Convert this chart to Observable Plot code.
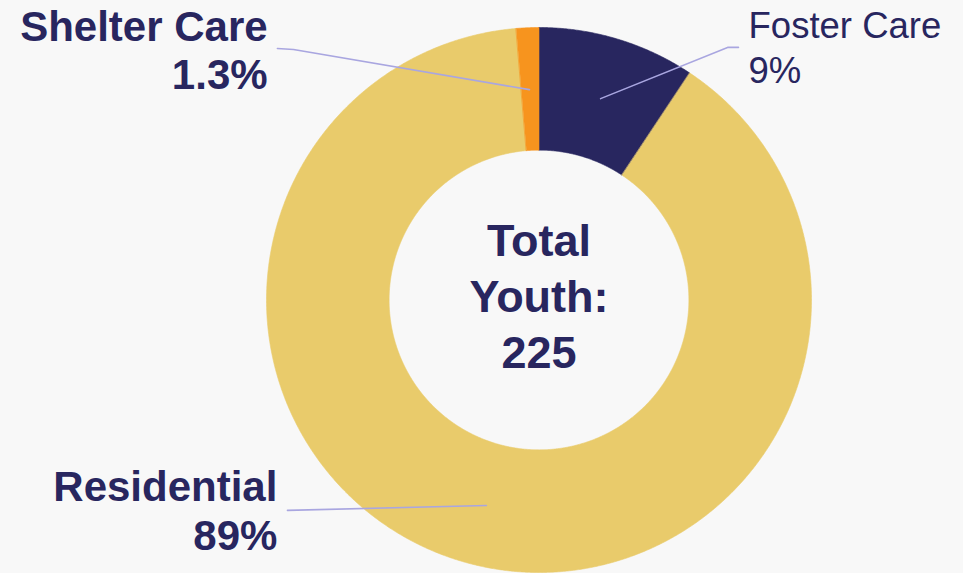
<!DOCTYPE html>
<html>
<head>
<meta charset="utf-8">
<script src="https://cdn.jsdelivr.net/npm/d3@7"></script>
<script src="https://cdn.jsdelivr.net/npm/@observablehq/plot@0.6"></script>
<style>
  html, body { margin: 0; padding: 0; background: #f8f8f8; }
  #chart svg { display: block; }
</style>
</head>
<body>
<div id="chart"></div>
<script>
// ---- data ----
const categories = ["Foster Care", "Residential", "Shelter Care"];
const counts = [21, 201, 3];
const percentLabels = ["9%", "89%", "1.3%"];
const totalLabel = "Total\nYouth:\n225";

// ---- styles ----
const colors = ["#28265f", "#e9cb6b", "#f7941e"];
const ink = "#28265f";
const leaderColor = "#a9a6e0";
const innerR = 0.55;

// ---- slices via d3.pie, drawn as filled polygons in Plot's x/y scales ----
const pie = d3.pie().sort(null).value(d => d.count)(
  categories.map((c, i) => ({ category: c, count: counts[i] }))
);
const slicePts = [];
pie.forEach(s => {
  const n = Math.max(4, Math.ceil((s.endAngle - s.startAngle) / 0.005));
  for (let k = 0; k <= n; k++) {
    const a = s.startAngle + (s.endAngle - s.startAngle) * k / n;
    slicePts.push({ cat: s.data.category, x: Math.sin(a), y: Math.cos(a) });
  }
  for (let k = n; k >= 0; k--) {
    const a = s.startAngle + (s.endAngle - s.startAngle) * k / n;
    slicePts.push({ cat: s.data.category, x: innerR * Math.sin(a), y: innerR * Math.cos(a) });
  }
});

// ---- label layout (chart units, radius = 1) ----
const labelLayout = {
  "Foster Care": { x: 0.769, y: 0.798, anchor: "start", weight: "normal", size: 36.5, lh: 1.23,
    leader: [[0.732, 0.927], [0.692, 0.927], [0.226, 0.739]] },
  "Residential": { x: -0.960, y: -0.919, anchor: "end", weight: "bold", size: 42, lh: 1.167,
    leader: [[-0.923, -0.772], [-0.193, -0.754]] },
  "Shelter Care": { x: -0.996, y: 0.776, anchor: "end", weight: "bold", size: 42, lh: 1.143,
    leader: [[-0.960, 0.923], [-0.901, 0.919], [-0.035, 0.772]] }
};

const leaderPts = [];
categories.forEach(c => labelLayout[c].leader.forEach(([x, y]) => leaderPts.push({ cat: c, x, y })));

const labelMarks = categories.map((c, i) => {
  const L = labelLayout[c];
  return Plot.text([{ x: L.x, y: L.y, t: c + "\n" + percentLabels[i] }], {
    x: "x", y: "y", text: "t",
    textAnchor: L.anchor, lineAnchor: "bottom", lineHeight: L.lh,
    fontSize: L.size, fontWeight: L.weight, fill: ink,
    fontFamily: "Arial, 'Liberation Sans', sans-serif"
  });
});

const chart = Plot.plot({
  width: 963,
  height: 573,
  marginLeft: 266,
  marginRight: 152,
  marginTop: 27,
  marginBottom: 1,
  style: { background: "#f8f8f8", overflow: "visible" },
  x: { domain: [-1, 1], axis: null },
  y: { domain: [-1, 1], axis: null },
  color: { domain: categories, range: colors },
  marks: [
    Plot.line(slicePts, { x: "x", y: "y", z: "cat", fill: "cat", stroke: "cat", strokeWidth: 0.6, curve: "linear-closed" }),
    Plot.line(leaderPts, { x: "x", y: "y", z: "cat", stroke: leaderColor, strokeWidth: 1.6 }),
    ...labelMarks,
    Plot.text([{ x: 0, y: -0.251, t: totalLabel }], {
      x: "x", y: "y", text: "t", textAnchor: "middle", lineAnchor: "bottom", lineHeight: 1.25,
      fontSize: 45, fontWeight: "bold", fill: ink,
      fontFamily: "Arial, 'Liberation Sans', sans-serif"
    })
  ]
});
document.getElementById("chart").appendChild(chart);
</script>
</body>
</html>
